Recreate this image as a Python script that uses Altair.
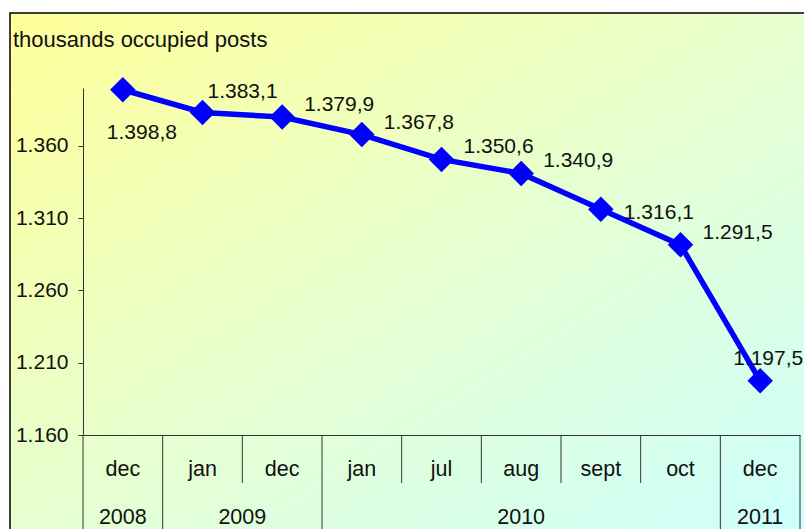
import altair as alt
import pandas as pd

# ---- data ----
months = ["dec", "jan", "dec", "jan", "jul", "aug", "sept", "oct", "dec"]
years = ["2008", "2009", "2009", "2010", "2010", "2010", "2010", "2010", "2011"]
values = [1398.8, 1383.1, 1379.9, 1367.8, 1350.6, 1340.9, 1316.1, 1291.5, 1197.5]
y_ticks = [1160, 1210, 1260, 1310, 1360]
title_text = "thousands occupied posts"

FONT = "Liberation Sans"
W, H = 717, 347
n = len(values)


def eu(v):
    s = f"{v:,.1f}"
    return s.replace(",", "#").replace(".", ",").replace("#", ".")


df = pd.DataFrame({
    "idx": list(range(n)),
    "month": months,
    "year": years,
    "value": values,
    "label": [eu(v) for v in values],
})

# year groups and separators derived from data
groups = []
start = 0
for i in range(1, n + 1):
    if i == n or years[i] != years[start]:
        groups.append({"year": years[start], "center": (start + i - 1) / 2})
        start = i
gdf = pd.DataFrame(groups)

seps = []
for i in range(n + 1):
    b = i - 0.5
    if i == 0 or i == n or years[i] != years[i - 1]:
        kind = "long"
    else:
        kind = "short"
    seps.append({"b": b, "kind": kind})
sdf = pd.DataFrame(seps)

xscale = alt.Scale(domain=[-0.5, n - 0.5], nice=False, zero=False)
yscale = alt.Scale(domain=[1160, 1400], nice=False, zero=False)

xaxis = alt.Axis(labels=False, ticks=False, title=None, grid=False,
                 domainColor="#333333", domainWidth=1, zindex=1)
yaxis = alt.Axis(values=y_ticks, title=None, grid=False,
                 labelExpr="replace(format(datum.value, ',.0f'), ',', '.')",
                 labelFont=FONT, labelFontSize=21, labelColor="#111111",
                 tickSize=5, tickColor="#333333", domainColor="#333333",
                 labelPadding=10, zindex=1)

gradient = {
    "gradient": "linear",
    "x1": 0, "y1": 0, "x2": 1, "y2": 1,
    "stops": [
        {"offset": 0, "color": "#FFFF99"},
        {"offset": 0.5, "color": "#E6FFD0"},
        {"offset": 1, "color": "#CCFFFF"},
    ],
}

bg = alt.Chart(pd.DataFrame({"a": [0]})).mark_rect(
    fill=gradient, stroke="#000000", strokeWidth=1.5
).encode(
    x=alt.value(-73), x2=alt.value(W + 40), y=alt.value(-75), y2=alt.value(H + 100)
)

base = alt.Chart(df)

line = base.mark_line(color="#0000FF", strokeWidth=5.5).encode(
    x=alt.X("idx:Q", scale=xscale, axis=xaxis),
    y=alt.Y("value:Q", scale=yscale, axis=yaxis),
)

pts = base.mark_point(shape="diamond", filled=True, size=650, color="#0000FF", opacity=1).encode(
    x=alt.X("idx:Q", scale=xscale),
    y=alt.Y("value:Q", scale=yscale),
)


def labels(filt, dx, dy):
    return base.transform_filter(filt).mark_text(
        font=FONT, fontSize=21, color="#111111", align="left", baseline="middle", dx=dx, dy=dy
    ).encode(
        x=alt.X("idx:Q", scale=xscale),
        y=alt.Y("value:Q", scale=yscale),
        text="label:N",
    )


lab_default = labels("datum.idx >= 2 && datum.idx <= 7 && datum.idx != 6", 22, -12)
lab_first = labels("datum.idx == 0", -16, 43)
lab_second = labels("datum.idx == 1", 5, -20)
lab_sept = labels("datum.idx == 6", 23, 4)
lab_last = labels("datum.idx == 8", -27, -22)

month_txt = base.mark_text(font=FONT, fontSize=21.5, color="#111111", baseline="middle").encode(
    x=alt.X("idx:Q", scale=xscale),
    y=alt.value(H + 35),
    text="month:N",
)

year_txt = alt.Chart(gdf).mark_text(font=FONT, fontSize=21.5, color="#111111", baseline="middle").encode(
    x=alt.X("center:Q", scale=xscale),
    y=alt.value(H + 83),
    text="year:N",
)

sep_short = alt.Chart(sdf).transform_filter("datum.kind == 'short'").mark_rule(
    color="#333333", strokeWidth=1
).encode(x=alt.X("b:Q", scale=xscale), y=alt.value(H), y2=alt.value(H + 48))

sep_long = alt.Chart(sdf).transform_filter("datum.kind == 'long'").mark_rule(
    color="#333333", strokeWidth=1
).encode(x=alt.X("b:Q", scale=xscale), y=alt.value(H), y2=alt.value(H + 110))

title = alt.Chart(pd.DataFrame({"t": [title_text]})).mark_text(
    font=FONT, fontSize=22, color="#111111", align="left", baseline="middle"
).encode(x=alt.value(-70), y=alt.value(-48), text="t:N")

chart = alt.layer(
    bg, sep_short, sep_long, line, pts,
    lab_default, lab_first, lab_second, lab_sept, lab_last,
    month_txt, year_txt, title,
).properties(
    width=W, height=H,
    autosize=alt.AutoSizeParams(type="none"),
    padding={"left": 75, "top": 80, "right": 4, "bottom": 94},
).configure_view(stroke=None)

chart.save("out.html", embed_options={"renderer": "svg", "actions": False})
